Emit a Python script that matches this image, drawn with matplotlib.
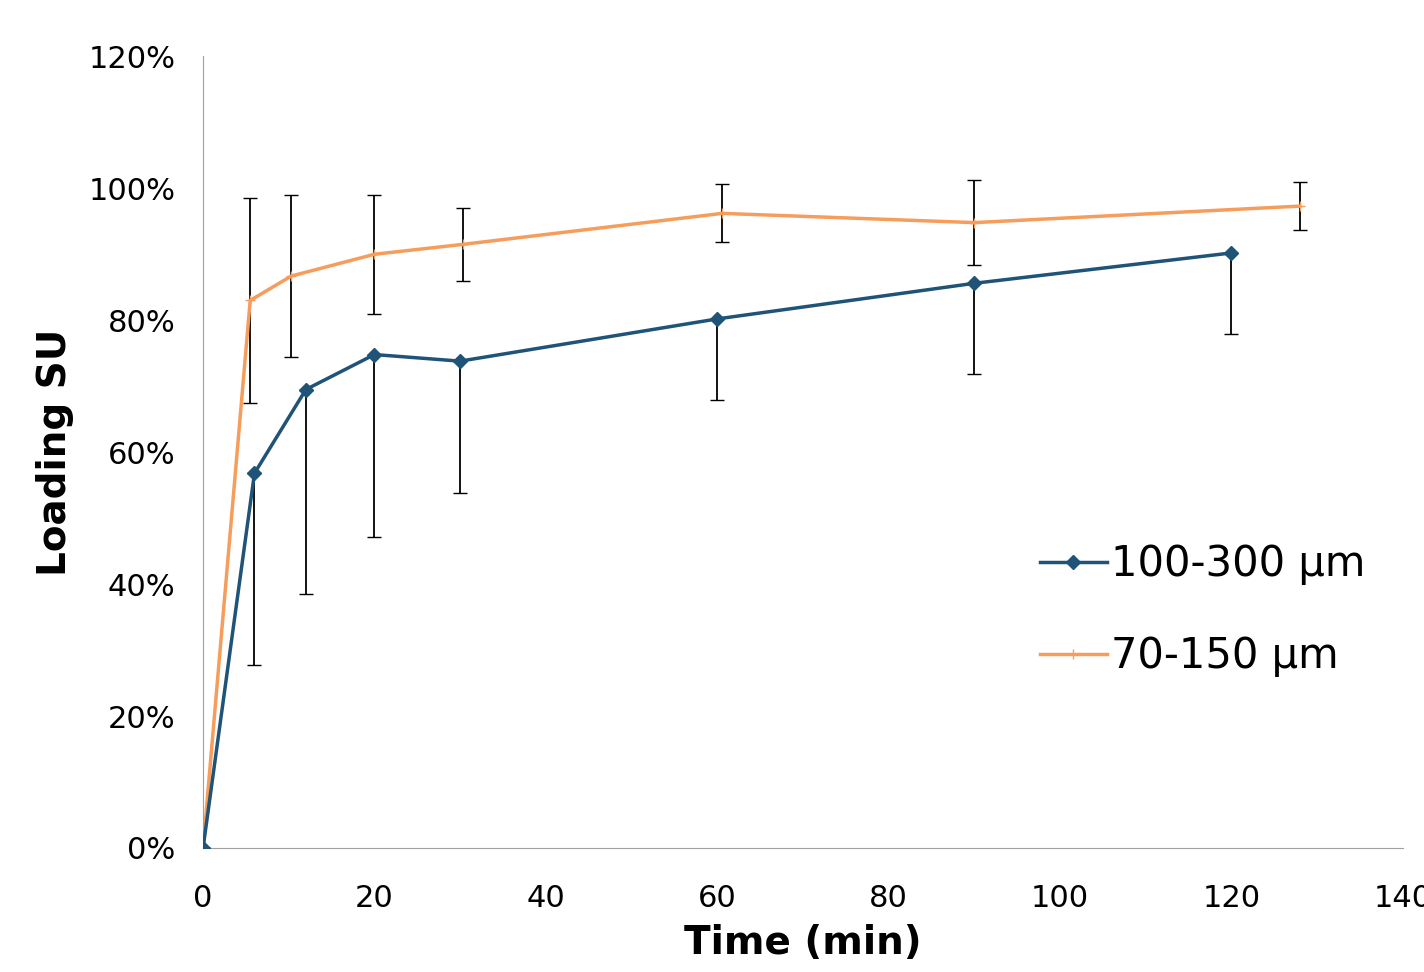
import matplotlib.pyplot as plt
from matplotlib.lines import Line2D
from matplotlib.ticker import PercentFormatter

# data
t_a = [0, 6, 12, 20, 30, 60, 90, 120]
load_a = [0, 56.8, 69.5, 74.8, 73.8, 80.2, 85.6, 90.2]
err_a = [0, 29, 31, 27.7, 20, 12.3, 13.8, 12.3]

t_b = [0, 5.5, 10.3, 20, 30.3, 60.6, 90, 128]
load_b = [0, 83.0, 86.7, 90.0, 91.5, 96.2, 94.8, 97.3]
err_b = [0, 15.5, 12.3, 9, 5.5, 4.4, 6.4, 3.6]

blue = '#1f5378'
orange = '#f79d5c'

fig = plt.figure(figsize=(14.24, 9.72), dpi=100)
ax = fig.add_axes([0.1426, 0.1276, 0.8424, 0.8144])

ax.errorbar(t_a, load_a, yerr=[err_a, [0] * len(err_a)], color=blue, lw=2.5,
            marker='D', ms=7, ecolor='black', elinewidth=1.3, capsize=5, zorder=3)
ax.errorbar(t_b, load_b, yerr=err_b, color=orange, lw=2.5,
            marker='+', ms=7, ecolor='black', elinewidth=1.3, capsize=5, zorder=2)

ax.set_xlim(0, 140)
ax.set_ylim(0, 120)
ax.set_xticks(range(0, 141, 20))
ax.set_yticks(range(0, 121, 20))
ax.yaxis.set_major_formatter(PercentFormatter(decimals=0))
ax.tick_params(length=0, labelsize=22)
ax.tick_params(axis='x', pad=26)
ax.tick_params(axis='y', pad=20)
for s in ['top', 'right']:
    ax.spines[s].set_visible(False)
for s in ['left', 'bottom']:
    ax.spines[s].set_color('#a0a0a0')
ax.set_xlabel('Time (min)', fontsize=28, fontweight='bold', labelpad=8)
ax.set_ylabel('Loading SU', fontsize=28, fontweight='bold', labelpad=10)

handles = [Line2D([], [], color=blue, lw=2.5, marker='D', ms=7),
           Line2D([], [], color=orange, lw=2.5, marker='+', ms=7)]
ax.legend(handles, ['100-300 µm', '70-150 µm'], loc='center right',
          bbox_to_anchor=(1.0, 0.30), fontsize=30, frameon=False,
          handlelength=1.6, handletextpad=0.1, labelspacing=1.2)

fig.savefig('out.png')
